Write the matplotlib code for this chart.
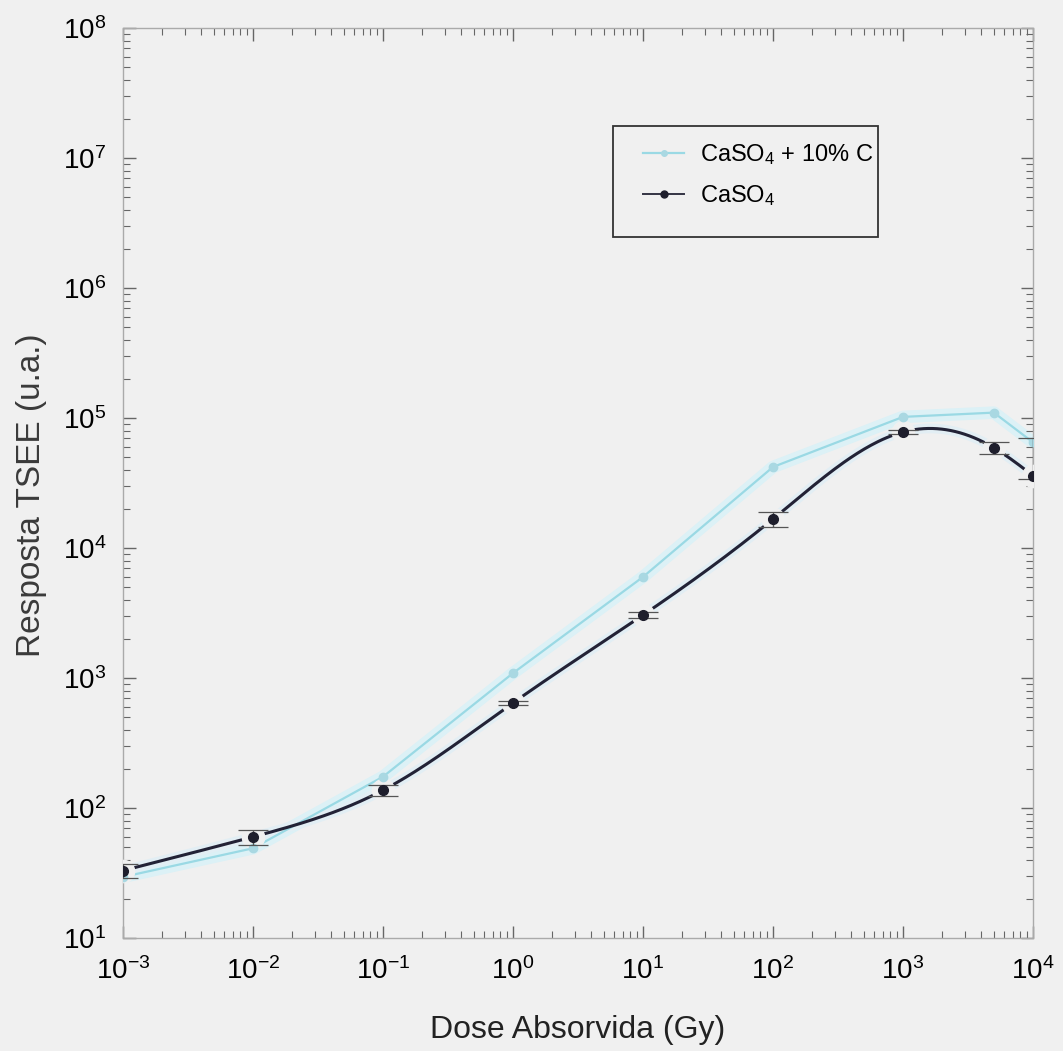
import matplotlib
matplotlib.use('Agg')
import matplotlib.pyplot as plt
from matplotlib.patches import Rectangle
import numpy as np

plt.rcParams['font.family'] = ['Liberation Sans', 'DejaVu Sans']
plt.rcParams['mathtext.fontset'] = 'custom'
plt.rcParams['mathtext.rm'] = 'Liberation Sans'
plt.rcParams['mathtext.it'] = 'Liberation Sans'
plt.rcParams['mathtext.default'] = 'regular'

# dose (Gy)
dose = [1e-3, 1e-2, 1e-1, 1e0, 1e1, 1e2, 1e3, 5e3, 1e4]

# TSEE response, CaSO4 + 10% C
resp_c = [29.5, 49, 174, 1090, 5990, 42000, 102000, 110000, 65000]

# TSEE response, CaSO4 with error bars
resp_pure = [33, 60, 137, 643, 3050, 16700, 78000, 59000, 36000]
err_low = [4, 8, 14, 25, 150, 2300, 3000, 6000, 2000]
err_high = [4, 8, 14, 25, 150, 2300, 3000, 6000, 34000]

BG = '#f0f0f0'


def spline_loglog(x, y, n=400):
    # natural cubic spline in log-log space, for the smooth connecting line
    lx = np.log10(x)
    ly = np.log10(y)
    k = len(lx)
    h = np.diff(lx)
    A = np.zeros((k, k))
    b = np.zeros(k)
    A[0, 0] = 1
    A[-1, -1] = 1
    for i in range(1, k - 1):
        A[i, i - 1] = h[i - 1]
        A[i, i] = 2 * (h[i - 1] + h[i])
        A[i, i + 1] = h[i]
        b[i] = 6 * ((ly[i + 1] - ly[i]) / h[i] - (ly[i] - ly[i - 1]) / h[i - 1])
    M = np.linalg.solve(A, b)
    xs = np.linspace(lx[0], lx[-1], n)
    idx = np.clip(np.searchsorted(lx, xs) - 1, 0, k - 2)
    x0, x1 = lx[idx], lx[idx + 1]
    hh = x1 - x0
    t0 = x1 - xs
    t1 = xs - x0
    ys = (M[idx] * t0 ** 3 / (6 * hh) + M[idx + 1] * t1 ** 3 / (6 * hh)
          + (ly[idx] / hh - M[idx] * hh / 6) * t0
          + (ly[idx + 1] / hh - M[idx + 1] * hh / 6) * t1)
    return 10 ** xs, 10 ** ys


fig = plt.figure(figsize=(10.63, 10.51), dpi=100, facecolor=BG)
ax = fig.add_axes([123 / 1063, 1 - 938 / 1051, 910 / 1063, 910 / 1051])
ax.set_facecolor(BG)
ax.set_xscale('log')
ax.set_yscale('log')
ax.set_xlim(1e-3, 1e4)
ax.set_ylim(1e1, 1e8)

# CaSO4 + 10% C : thin cyan line with a soft halo
ax.plot(dose, resp_c, color='#dcf1f6', lw=9, solid_capstyle='round', zorder=1)
ax.plot(dose, resp_c, color='#9ad9e4', lw=1.6, zorder=2)
ax.plot(dose, resp_c, ls='none', marker='o', ms=6, color='#a9d8e2', zorder=5)

# CaSO4 : smooth dark curve
sx, sy = spline_loglog(dose, resp_pure)
ax.plot(sx, sy, color='#e2eef4', lw=7, zorder=1)
ax.plot(sx, sy, color='#222236', lw=2.2, zorder=3)
ax.plot(dose, resp_pure, ls='none', marker='o', ms=16, color=BG, zorder=4)
ax.errorbar(dose, resp_pure, yerr=[err_low, err_high], fmt='none',
            ecolor='#555555', elinewidth=1.0, capsize=11, capthick=0.9, zorder=6)
ax.plot(dose, resp_pure, ls='none', marker='o', ms=7, color='#1e1e2c', zorder=7)

# legend, drawn without its own frame; the box is a separate rectangle
h1, = ax.plot([], [], color='#9ad9e4', lw=1.6, marker='o', ms=4, mfc='#a9d8e2', mec='#a9d8e2')
h2, = ax.plot([], [], color='#333344', lw=1.4, marker='o', ms=5, mfc='#1e1e2c', mec='#1e1e2c')
leg = ax.legend([h1, h2], [r'CaSO$_4$ + 10% C', r'CaSO$_4$'], loc='upper left',
                bbox_to_anchor=(643 / 1063, 1 - 142 / 1051), bbox_transform=fig.transFigure,
                borderaxespad=0, borderpad=0, fontsize=17, frameon=False,
                handlelength=1.75, handletextpad=0.65, labelspacing=0.7)
ax.add_patch(Rectangle((613 / 1063, 1 - 237 / 1051), 265 / 1063, 111 / 1051,
                       transform=fig.transFigure, fill=False, edgecolor='#333333',
                       lw=1.3, zorder=8))

for side in ['left', 'right', 'top', 'bottom']:
    ax.spines[side].set_color('#aaaaaa')
    ax.spines[side].set_linewidth(1.0)

ax.tick_params(which='both', direction='in', top=True, right=True, colors='#666666',
               labelcolor='black')
ax.tick_params(which='major', length=9, width=1.0, labelsize=20)
ax.tick_params(axis='x', which='major', pad=14)
ax.tick_params(axis='y', which='major', pad=12)
ax.tick_params(which='minor', length=5, width=0.8)
ax.set_xticks([1e-3, 1e-2, 1e-1, 1e0, 1e1, 1e2, 1e3, 1e4])
ax.set_yticks([1e1, 1e2, 1e3, 1e4, 1e5, 1e6, 1e7, 1e8])

ax.set_xlabel('Dose Absorvida (Gy)', fontsize=23, color='#222222')
ax.set_ylabel('Resposta TSEE (u.a.)', fontsize=24, color='#3a3a3a')
ax.xaxis.set_label_coords(0.5, -0.085)
ax.yaxis.set_label_coords(-0.0835, 0.487)

fig.savefig('out.png', dpi=100, facecolor=BG)
